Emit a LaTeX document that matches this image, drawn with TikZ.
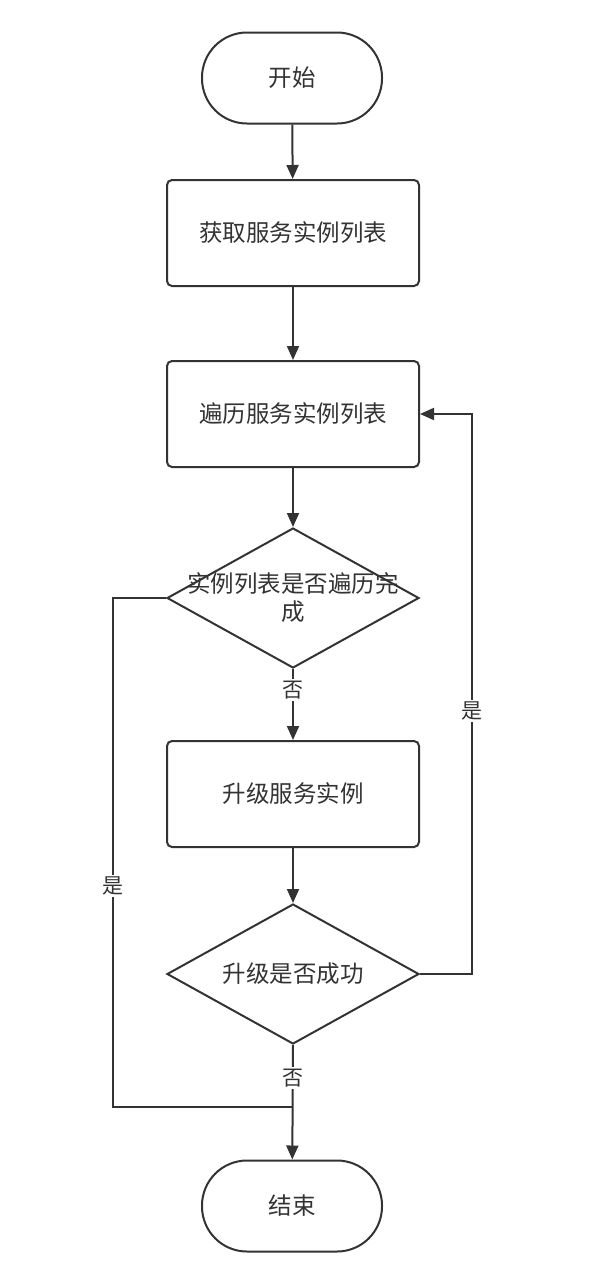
\documentclass[tikz,border=0pt]{standalone}
\usepackage{fontspec}
\setmainfont{Noto Sans CJK SC}
\usetikzlibrary{arrows.meta,shapes.geometric}
\definecolor{ink}{HTML}{333333}
\tikzset{
  flow/.style={draw=ink, line width=2pt, text=ink, font=\fontsize{23.5}{30}\selectfont},
  terminal/.style={flow, rectangle, rounded corners=45pt, minimum width=180pt, minimum height=91pt},
  process/.style={flow, rectangle, rounded corners=5pt, minimum width=252pt, minimum height=106pt},
  decision/.style={flow, diamond, minimum width=252pt, minimum height=140pt, inner sep=0pt},
  edgelabel/.style={fill=white, text=ink, inner sep=2pt, font=\fontsize{21}{24}\selectfont},
  link/.style={draw=ink, line width=2pt, -{Triangle[length=14pt,width=12pt]}}
}
\begin{document}
\begin{tikzpicture}[x=1pt,y=1pt]
                \useasboundingbox[fill=white] (0,0) rectangle (609,-1280);
                \node[terminal] (start) at (292,-78) {开始};
                \node[process] (fetch) at (293,-233) {获取服务实例列表};
                \node[process] (walk) at (293,-414) {遍历服务实例列表};
                \node[decision, label={[text=ink, align=center, font=\fontsize{23.5}{28}\selectfont]center:实例列表是否遍历完\\成}] (done) at (293,-598) {};
                \node[process] (upgrade) at (293,-794) {升级服务实例};
                \node[decision, label={[text=ink, font=\fontsize{23.5}{28}\selectfont]center:升级是否成功}] (ok) at (293,-974) {};
                \node[terminal] (stop) at (292,-1206) {结束};
                \coordinate (yesleft) at (113,-598);
                \coordinate (merge) at (293,-1107);
                \coordinate (loop) at (472,-974);
                \draw[link] (start) to (fetch);
                \draw[link] (fetch) to (walk);
                \draw[link] (walk) to (done);
                \draw[link] (done.south) to node[edgelabel, pos=0.3] {否} (upgrade);
                \draw[link] (upgrade) to (ok);
                \draw[link] (ok.south) to node[edgelabel, pos=0.29] {否} (stop);
                \draw[link] (ok.east) -- (loop) -- node[edgelabel, pos=0.47] {是} (loop |- walk.east) -- (walk.east);
                \draw[draw=ink, line width=2pt] (done.west) -- (yesleft) -- node[edgelabel, pos=0.566] {是} (yesleft |- merge) -- (merge);
\end{tikzpicture}
\end{document}
